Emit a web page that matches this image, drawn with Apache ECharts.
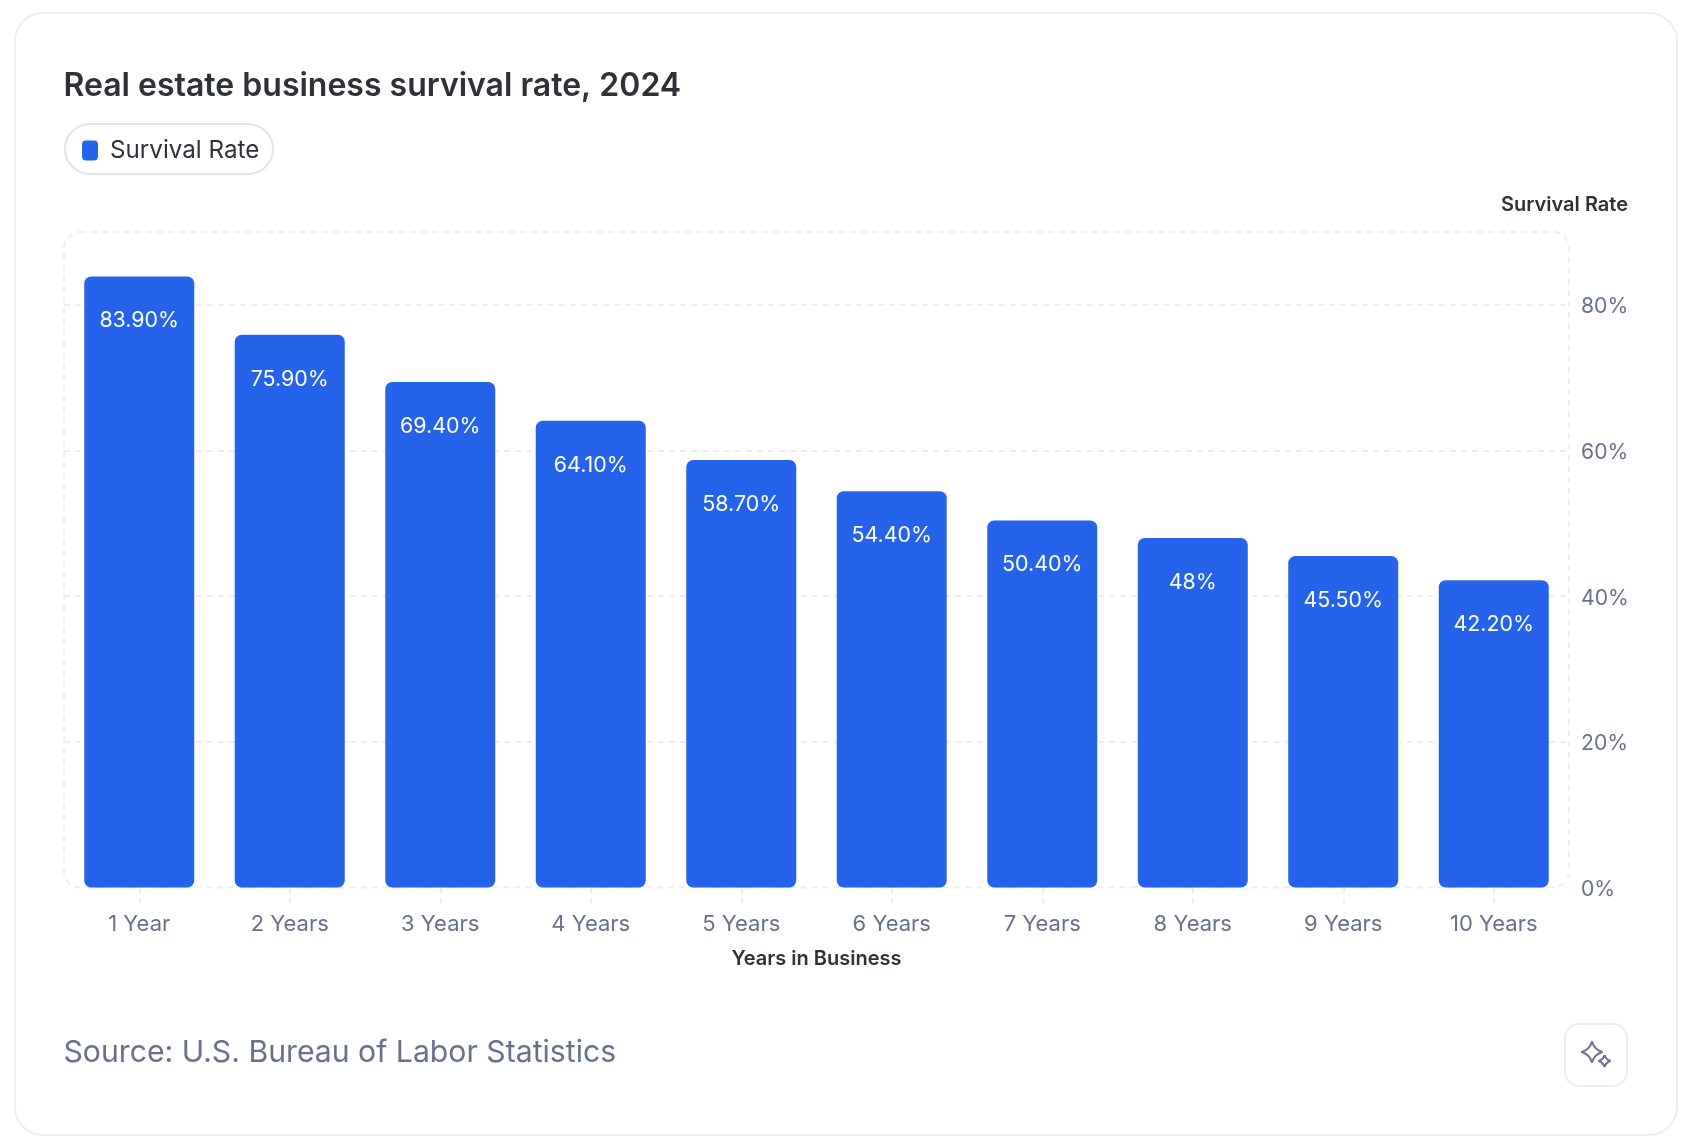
<!DOCTYPE html>
<html lang="en">
<head>
    <meta charset="UTF-8">
    <title>Real estate business survival rate, 2024</title>
    <script src="https://cdn.jsdelivr.net/npm/echarts@6/dist/echarts.min.js"></script>
    <style>
        * { margin: 0; padding: 0; }
        body { background: #fff; }
        #chart { width: 1694px; height: 1146px; }
    </style>
</head>
<body>
<div id="chart"></div>
<script>
    var categories = ['1 Year', '2 Years', '3 Years', '4 Years', '5 Years', '6 Years', '7 Years', '8 Years', '9 Years', '10 Years'];
    var survivalRate = [83.9, 75.9, 69.4, 64.1, 58.7, 54.4, 50.4, 48, 45.5, 42.2];
    var seriesName = 'Survival Rate';

    var font = 'Inter';
    var dark = '#2e3138';
    var slate = '#68718c';
    var dash = '#eceef2';

    // four pointed star for the icon button, one curve per side
    function star(cx, cy, r) {
        var tips = [[0, -r], [r, 0], [0, r], [-r, 0]];
        return tips.map(function (tip, i) {
            var next = tips[(i + 1) % 4];
            return {
                type: 'bezierCurve', z: 6, silent: true,
                shape: {
                    x1: cx + tip[0], y1: cy + tip[1],
                    x2: cx + next[0], y2: cy + next[1],
                    cpx1: cx + (tip[0] + next[0]) * 0.22, cpy1: cy + (tip[1] + next[1]) * 0.22
                },
                style: { fill: 'none', stroke: slate, lineWidth: 2 }
            };
        });
    }

    var chart = echarts.init(document.getElementById('chart'));
    chart.setOption({
        animation: false,
        textStyle: { fontFamily: font },
        title: [
            {
                text: 'Real estate business survival rate, 2024',
                left: 63.5, top: 70, padding: 0,
                textStyle: { fontFamily: font, fontSize: 32, fontWeight: 600, color: dark }
            },
            {
                text: 'Source: U.S. Bureau of Labor Statistics',
                left: 63.5, top: 1038, padding: 0,
                textStyle: { fontFamily: font, fontSize: 30.2, fontWeight: 400, color: slate }
            }
        ],
        legend: {
            left: 82, top: 138.5,
            padding: 0,
            itemWidth: 16, itemHeight: 20,
            itemGap: 0,
            icon: 'path://M4,0H12A4,4 0 0 1 16,4V16A4,4 0 0 1 12,20H4A4,4 0 0 1 0,16V4A4,4 0 0 1 4,0Z',
            selectedMode: false,
            textStyle: { fontFamily: font, fontSize: 24.2, color: dark, padding: [0, 0, 0, 7] },
            data: [seriesName]
        },
        grid: { left: 64, right: 125, top: 232, bottom: 258.5 },
        xAxis: {
            type: 'category',
            data: categories,
            name: 'Years in Business',
            nameLocation: 'middle',
            nameGap: 61,
            nameTextStyle: { fontFamily: font, fontSize: 20, fontWeight: 600, color: dark },
            axisLine: { show: false },
            axisTick: { show: true, alignWithLabel: true, length: 16, lineStyle: { color: dash, width: 2, type: [6, 5] } },
            axisLabel: { fontFamily: font, fontSize: 22, color: slate, margin: 26 }
        },
        yAxis: {
            type: 'value',
            position: 'right',
            min: 0, max: 90, interval: 20,
            name: seriesName,
            nameLocation: 'end',
            nameGap: 17,
            nameTextStyle: { fontFamily: font, fontSize: 20, fontWeight: 600, color: dark, align: 'right', padding: [0, -59, 0, 0] },
            axisLine: { show: false },
            axisTick: { show: false },
            axisLabel: { fontFamily: font, fontSize: 21.2, lineHeight: 22, verticalAlign: 'top', color: slate, margin: 12, padding: [-9, 0, 0, 0], showMaxLabel: false, formatter: '{value}%' },
            splitLine: { showMinLine: false, showMaxLine: false, lineStyle: { color: dash, width: 2, type: [6, 5] } }
        },
        series: [{
            name: seriesName,
            type: 'bar',
            data: survivalRate,
            barWidth: 110,
            itemStyle: { color: '#2563eb', borderRadius: 7 },
            label: {
                show: true,
                position: 'insideTop',
                distance: 34,
                fontFamily: font, fontSize: 21.4, color: '#fff',
                formatter: function (p) {
                    return (Number.isInteger(p.value) ? p.value : p.value.toFixed(2)) + '%';
                }
            }
        }],
        graphic: [
            // card
            { type: 'rect', z: -10, silent: true, shape: { x: 15, y: 13, width: 1662, height: 1122, r: 28 }, style: { fill: '#fff', stroke: '#eceef2', lineWidth: 2 } },
            // legend pill
            { type: 'rect', z: -8, silent: true, shape: { x: 65, y: 124, width: 208, height: 50, r: 25 }, style: { fill: 'none', stroke: '#e2e3ea', lineWidth: 2 } },
            // dashed plot frame
            { type: 'rect', z: -9, silent: true, shape: { x: 64, y: 232, width: 1505, height: 655.5, r: 16 }, style: { fill: 'none', stroke: dash, lineWidth: 2, lineDash: [6, 5] } },
            // icon button
            { type: 'rect', z: 5, silent: true, shape: { x: 1565, y: 1024, width: 62, height: 62, r: 14 }, style: { fill: '#fff', stroke: '#eceef2', lineWidth: 2 } }
        ].concat(star(1592, 1052, 10.5), star(1604.5, 1061, 6))
    });
</script>
</body>
</html>
